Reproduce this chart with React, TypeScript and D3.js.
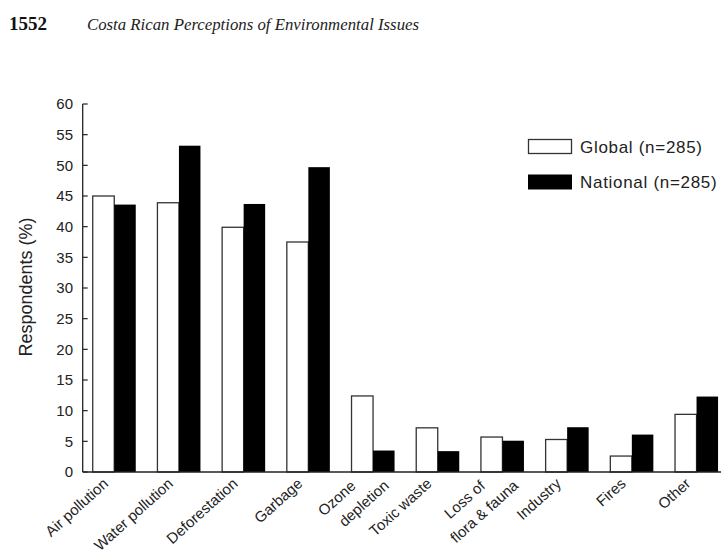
import React from "react";
import * as d3 from "d3";

const categories = [
  "Air pollution",
  "Water pollution",
  "Deforestation",
  "Garbage",
  "Ozone depletion",
  "Toxic waste",
  "Loss of flora & fauna",
  "Industry",
  "Fires",
  "Other",
];
const labelLines = [
  ["Air pollution"],
  ["Water pollution"],
  ["Deforestation"],
  ["Garbage"],
  ["Ozone", "depletion"],
  ["Toxic waste"],
  ["Loss of", "flora & fauna"],
  ["Industry"],
  ["Fires"],
  ["Other"],
];
const globalValues = [45.0, 43.9, 39.9, 37.5, 12.4, 7.2, 5.7, 5.3, 2.6, 9.4];
const nationalValues = [43.6, 53.2, 43.7, 49.7, 3.5, 3.4, 5.1, 7.3, 6.1, 12.3];
const yTicks = [0, 5, 10, 15, 20, 25, 30, 35, 40, 45, 50, 55, 60];
const seriesNames = ["Global (n=285)", "National (n=285)"];
const pageNumber = "1552";
const runningTitle = "Costa Rican Perceptions of Environmental Issues";
const yTitle = "Respondents (%)";

const W = 721;
const H = 554;
const axisX = 82.7;
const y0 = 472;
const yTop = 104;
const sans = "'Liberation Sans', Arial, sans-serif";

export default function App() {
  const y = d3.scaleLinear().domain([0, 60]).range([y0, yTop]);
  const step = 64.7;
  const x = d3
    .scaleBand<string>()
    .domain(categories)
    .range([axisX, axisX + step * (10 - 0.335 + 0.31)])
    .paddingInner(0.335)
    .paddingOuter(0.155);
  const bw = x.bandwidth() / 2;

  return (
    <div style={{ position: "absolute", left: 0, top: 0 }}>
      <svg width={W} height={H} style={{ display: "block", background: "#fff" }}>
        <text x={9} y={30} fontFamily="'Liberation Serif', 'Times New Roman', serif" fontWeight="bold" fontSize={19} fill="#111">
          {pageNumber}
        </text>
        <text x={87} y={30} fontFamily="'Liberation Serif', 'Times New Roman', serif" fontStyle="italic" fontSize={16.8} fill="#222">
          {runningTitle}
        </text>

        {/* bars */}
        {categories.map((c, i) => {
          const x0 = x(c)!;
          return (
            <g key={c}>
              <rect
                x={x0}
                y={y(globalValues[i])}
                width={bw}
                height={y0 - y(globalValues[i])}
                fill="#fff"
                stroke="#333"
                strokeWidth={1.3}
              />
              <rect
                x={x0 + bw}
                y={y(nationalValues[i])}
                width={bw}
                height={y0 - y(nationalValues[i])}
                fill="#000"
              />
            </g>
          );
        })}

        {/* y axis */}
        <line x1={axisX} x2={axisX} y1={yTop} y2={y0} stroke="#222" strokeWidth={1.3} />
        {yTicks.map((t) => (
          <g key={t}>
            <line x1={axisX} x2={axisX + 5} y1={y(t)} y2={y(t)} stroke="#222" strokeWidth={1.2} />
            <text
              x={73}
              y={y(t)}
              dy="0.36em"
              textAnchor="end"
              fontFamily={sans}
              fontSize={15}
              fill="#222"
            >
              {t}
            </text>
          </g>
        ))}
        {/* x axis baseline */}
        <line x1={axisX} x2={W} y1={y0} y2={y0} stroke="#222" strokeWidth={1.3} />

        {/* x labels */}
        {categories.map((c, i) => {
          const cx = x(c)! + x.bandwidth() / 2;
          const lines = labelLines[i];
          return (
            <g key={c} transform={`translate(${cx - 5},${y0 + 13}) rotate(-42)`}>
              {lines.map((ln, j) => (
                <text
                  key={j}
                  x={lines.length > 1 ? -10 + 25 * j : 0}
                  y={lines.length > 1 ? -6 + 22 * j : 0}
                  textAnchor="end"
                  fontFamily={sans}
                  fontSize={15}
                  fill="#222"
                >
                  {ln}
                </text>
              ))}
            </g>
          );
        })}

        {/* y title */}
        <text
          transform={`translate(32,287) rotate(-90)`}
          textAnchor="middle"
          fontFamily={sans}
          fontSize={18}
          fill="#222"
        >
          {yTitle}
        </text>

        {/* legend */}
        <rect x={528.5} y={139.5} width={43} height={14} fill="#fff" stroke="#333" strokeWidth={1.3} />
        <text x={580} y={147} dy="0.36em" fontFamily={sans} fontSize={17} letterSpacing={0.7} fill="#222">
          {seriesNames[0]}
        </text>
        <rect x={528} y={174.5} width={44} height={15} fill="#000" />
        <text x={580} y={182} dy="0.36em" fontFamily={sans} fontSize={17} letterSpacing={0.7} fill="#222">
          {seriesNames[1]}
        </text>
      </svg>
    </div>
  );
}
